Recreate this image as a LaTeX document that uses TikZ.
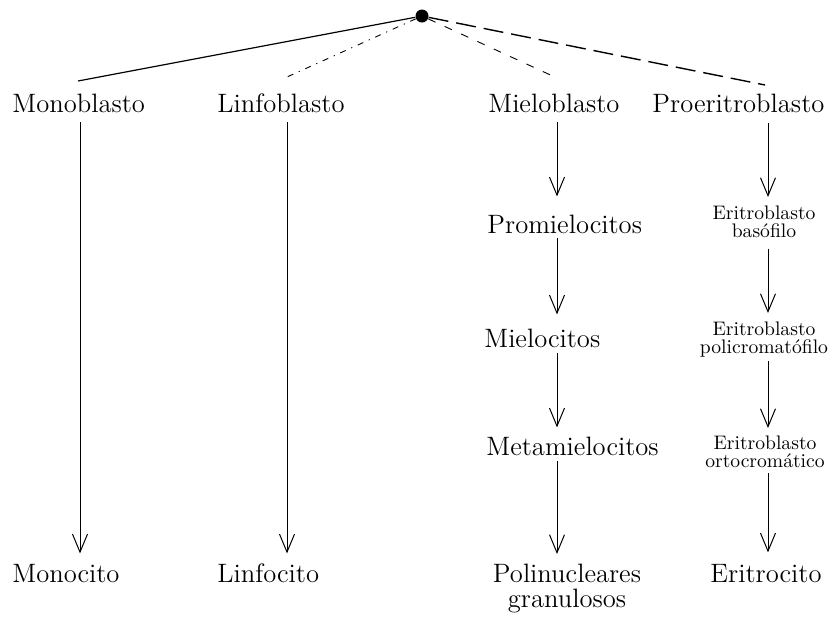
\documentclass[tikz,border=0pt]{standalone}
\usepackage{tikz}
\usetikzlibrary{positioning, arrows.meta}

\begin{document}
\begin{tikzpicture}[x=0.5pt, y=-0.5pt,
    big/.style={inner sep=0pt, font=\fontsize{13.3}{12.5}\selectfont, text height=9.1pt, text depth=0pt},
    small/.style={inner sep=0pt, font=\fontsize{9.8}{9}\selectfont, align=center, anchor=north},
    flow/.style={-{Straight Barb[length=9pt, width=7.5pt]}, line width=0.5pt}]
    \useasboundingbox (0,0) rectangle (837,618);

    \node[circle, fill, inner sep=0pt, minimum size=6.5pt] (origin) at (422,16) {};

    \node[big, anchor=base west] (mono_blast) at (12,112) {Monoblasto};
    \node[big, anchor=base west] (linfo_blast) at (217,112) {Linfoblasto};
    \node[big, anchor=base west] (mielo_blast) at (488,112) {Mieloblasto};
    \node[big, anchor=base west] (proeri_blast) at (652,112) {Proeritroblasto};

    \node[big, anchor=base west] (promielo) at (487,233) {Promielocitos};
    \node[big, anchor=base west] (mielo) at (484,347) {Mielocitos};
    \node[big, anchor=base west] (metamielo) at (486,455) {Metamielocitos};
    \node[inner sep=0pt, font=\fontsize{13.3}{12.5}\selectfont, align=center, anchor=north] (polinuc) at (567,564) {Polinucleares\\granulosos};

    \node[small] (eri_baso) at (764,205) {Eritroblasto\\basófilo};
    \node[small] (eri_poli) at (764,321) {Eritroblasto\\policromatófilo};
    \node[small] (eri_orto) at (765,435) {Eritroblasto\\ortocromático};

    \node[big, anchor=base west] (mono_cyte) at (12,582) {Monocito};
    \node[big, anchor=base west] (linfo_cyte) at (217,582) {Linfocito};
    \node[big, anchor=base] (eri_cyte) at (766,582) {Eritrocito};

    % dot
    \coordinate (end_1) at (78,81);
    \coordinate (end_2) at (287,77);
    \coordinate (end_3) at (557,78);
    \coordinate (end_4) at (765,85);
    \coordinate (col_1) at (80,0);
    \coordinate (col_2) at (287,0);
    \coordinate (col_3) at (557,0);
    \coordinate (col_4) at (768,0);

    \draw[line width=0.6pt] (origin) -- (end_1);
    \draw[line width=0.45pt, dash pattern=on 3pt off 3pt on 0.6pt off 3pt] (origin) -- (end_2);
    \draw[line width=0.45pt, dash pattern=on 4pt off 5pt] (origin) -- (end_3);
    \draw[line width=0.7pt, dash pattern=on 10pt off 4pt] (origin) -- (end_4);

    \draw[flow, shorten <=5pt, shorten >=5pt] (mono_blast.south -| col_1) -- (mono_cyte.north -| col_1);
    \draw[flow, shorten <=5pt, shorten >=5pt] (linfo_blast.south -| col_2) -- (linfo_cyte.north -| col_2);

    \draw[flow, shorten <=5pt, shorten >=9pt] (mielo_blast.south -| col_3) -- (promielo.north -| col_3);
    \draw[flow, shorten <=2.5pt, shorten >=7pt] (promielo.south -| col_3) -- (mielo.north -| col_3);
    \draw[flow, shorten <=3pt, shorten >=4.5pt] (mielo.south -| col_3) -- (metamielo.north -| col_3);
    \draw[flow, shorten <=3pt, shorten >=5pt] (metamielo.south -| col_3) -- (polinuc.north -| col_3);

    \draw[flow, shorten <=5.5pt, shorten >=4pt] (proeri_blast.south -| col_4) -- (eri_baso.north -| col_4);
    \draw[flow, shorten <=5.5pt, shorten >=4pt] (eri_baso.south -| col_4) -- (eri_poli.north -| col_4);
    \draw[flow, shorten <=2pt, shorten >=3.5pt] (eri_poli.south -| col_4) -- (eri_orto.north -| col_4);
    \draw[flow, shorten <=2.7pt, shorten >=5.5pt] (eri_orto.south -| col_4) -- (eri_cyte.north -| col_4);
\end{tikzpicture}
\end{document}
